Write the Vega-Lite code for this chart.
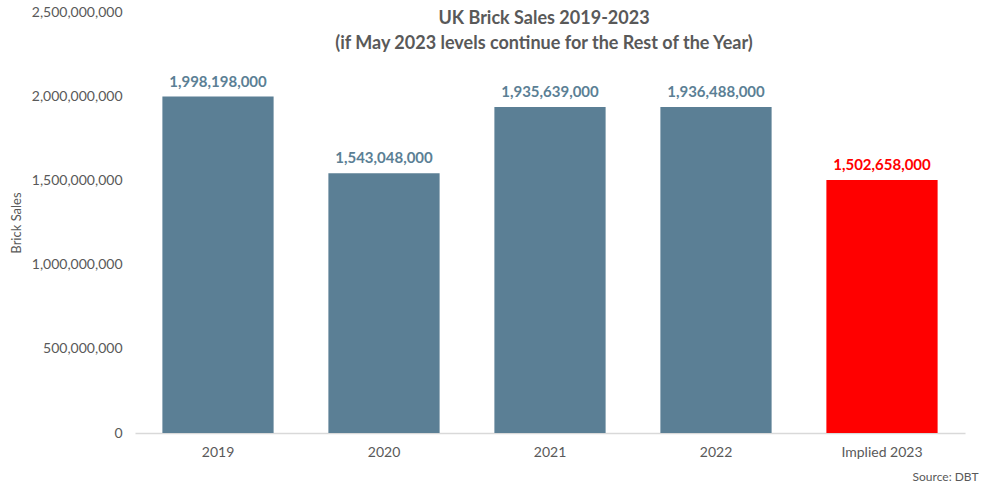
{
  "$schema": "https://vega.github.io/schema/vega-lite/v6.json",
  "width": 830,
  "height": 421,
  "autosize": {"type": "none"},
  "padding": {"left": 135, "top": 12, "right": 17, "bottom": 58},
  "background": "white",
  "config": {
    "view": {"stroke": null},
    "font": "Lato"
  },
  "title": {
    "text": ["UK Brick Sales 2019-2023", "(if May 2023  levels continue for the Rest of the Year)"],
    "anchor": "middle",
    "frame": "group",
    "orient": "top",
    "offset": -48,
    "dx": -6,
    "fontSize": 18,
    "fontWeight": "bold",
    "color": "#595959",
    "font": "Lato",
    "lineHeight": 25,
    "baseline": "top"
  },
  "data": {
    "values": [
      {"year": "2019", "sales": 1998198000, "kind": "actual"},
      {"year": "2020", "sales": 1543048000, "kind": "actual"},
      {"year": "2021", "sales": 1935639000, "kind": "actual"},
      {"year": "2022", "sales": 1936488000, "kind": "actual"},
      {"year": "Implied 2023", "sales": 1502658000, "kind": "implied"}
    ]
  },
  "encoding": {
    "x": {
      "field": "year",
      "type": "nominal",
      "sort": null,
      "scale": {"paddingInner": 0.33, "paddingOuter": 0.165},
      "axis": {
        "title": "Source: DBT",
        "titleAnchor": "end",
        "titleAlign": "right",
        "titleX": 843,
        "titleFontSize": 12,
        "titleFontWeight": "normal",
        "titleColor": "#595959",
        "titlePadding": 12,
        "labelAngle": 0,
        "labelFontSize": 14,
        "labelColor": "#595959",
        "labelPadding": 12,
        "ticks": false,
        "domainColor": "#D9D9D9",
        "domainWidth": 1.5
      }
    },
    "y": {
      "field": "sales",
      "type": "quantitative",
      "scale": {"domain": [0, 2500000000]},
      "axis": {
        "title": "Brick Sales",
        "titleFontSize": 13,
        "titleFontWeight": "normal",
        "titleColor": "#595959",
        "titleX": -112,
        "labelFontSize": 14,
        "labelColor": "#595959",
        "labelPadding": 13,
        "values": [0, 500000000, 1000000000, 1500000000, 2000000000, 2500000000],
        "format": ",d",
        "ticks": false,
        "domain": false,
        "grid": false
      }
    },
    "color": {
      "field": "kind",
      "type": "nominal",
      "scale": {"domain": ["actual", "implied"], "range": ["#5B7F95", "#FF0000"]},
      "legend": null
    }
  },
  "layer": [
    {"mark": {"type": "bar"}},
    {
      "mark": {"type": "text", "baseline": "bottom", "dy": -7, "fontSize": 15, "fontWeight": "bold", "font": "Lato"},
      "encoding": {
        "text": {"field": "sales", "type": "quantitative", "format": ",d"}
      }
    }
  ]
}
